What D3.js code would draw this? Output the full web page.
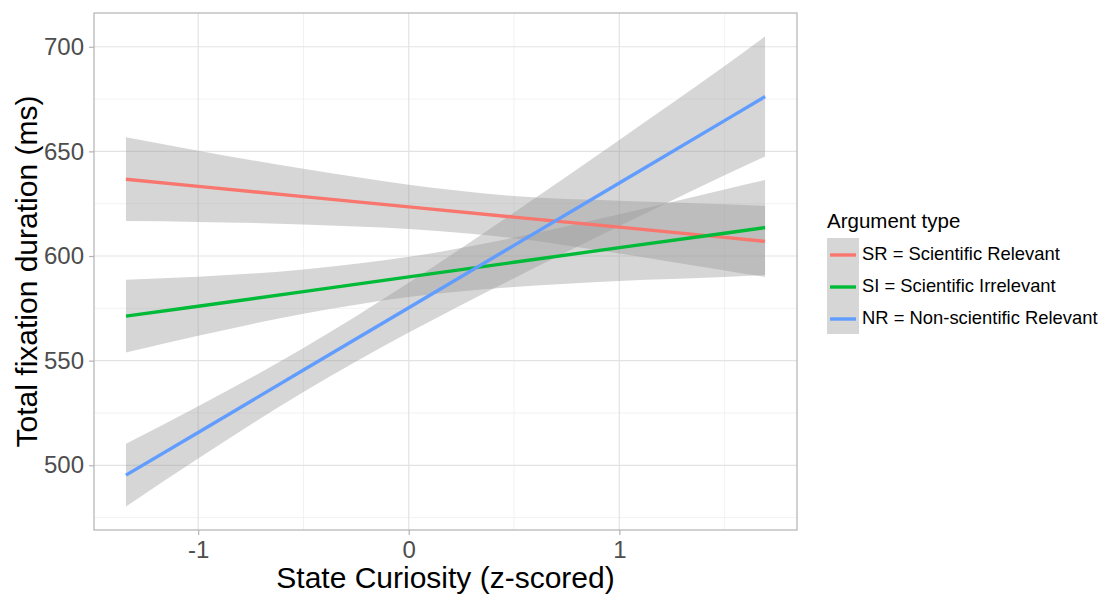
<!DOCTYPE html>
<html>
<head>
<meta charset="utf-8">
<script src="https://cdn.jsdelivr.net/npm/d3@7"></script>
<style>
  html, body { margin: 0; padding: 0; background: #ffffff; }
  svg { display: block; font-family: "Liberation Sans", Arial, sans-serif; }
</style>
</head>
<body>
<svg id="chart" width="1104" height="595"></svg>
<script>
// Fitted lines with 95% confidence bands, one per argument type
const seriesKeys = ["SR", "SI", "NR"];
const seriesLabels = ["SR = Scientific Relevant", "SI = Scientific Irrelevant", "NR = Non-scientific Relevant"];
const seriesColors = ["#F8766D", "#00BA38", "#619CFF"];

// State curiosity (z-scored) positions where the fit is evaluated
const curiosity = [-1.343, -1, -0.5, 0, 0.5, 1, 1.5, 1.692];

// Predicted total fixation duration (ms)
const fitSR = [636.7, 633.3, 628.4, 623.5, 618.6, 613.8, 608.9, 607.0];
const fitSI = [571.3, 576.0, 583.0, 590.0, 597.0, 604.0, 610.9, 613.6];
const fitNR = [495.3, 515.7, 545.5, 575.3, 605.1, 634.9, 664.7, 676.2];

// Lower and upper confidence limits (ms)
const lowerSR = [616.7, 616.3, 615.1, 612.9, 608.5, 601.2, 593.1, 590.0];
const upperSR = [656.7, 650.3, 641.7, 634.1, 628.7, 626.4, 624.7, 624.0];
const lowerSI = [553.9, 561.9, 572.4, 580.4, 585.2, 588.1, 590.0, 590.9];
const upperSI = [588.7, 590.1, 593.6, 599.6, 608.8, 619.9, 631.8, 636.3];
const lowerNR = [480.3, 503.2, 535.0, 563.4, 589.4, 614.3, 638.6, 647.5];
const upperNR = [510.3, 528.2, 556.0, 587.2, 620.8, 655.5, 690.8, 704.9];

const xTicks = [-1, 0, 1];
const yTicks = [500, 550, 600, 650, 700];

const fits = [fitSR, fitSI, fitNR];
const lowers = [lowerSR, lowerSI, lowerNR];
const uppers = [upperSR, upperSI, upperNR];

const series = seriesKeys.map((k, i) => ({
  key: k,
  label: seriesLabels[i],
  color: seriesColors[i],
  points: curiosity.map((x, j) => ({ x, y: fits[i][j], lo: lowers[i][j], hi: uppers[i][j] }))
}));

const svg = d3.select("#chart");
const panel = { left: 94, right: 797, top: 13, bottom: 530 };

// Domains padded by 5% like a ggplot continuous scale
const xExt = d3.extent(curiosity);
const yExt = [d3.min(lowers.flat()), d3.max(uppers.flat())];
const xPad = (xExt[1] - xExt[0]) * 0.05;
const yPad = (yExt[1] - yExt[0]) * 0.05;

const x = d3.scaleLinear().domain([xExt[0] - xPad, xExt[1] + xPad]).range([panel.left, panel.right]);
const y = d3.scaleLinear().domain([yExt[0] - yPad, yExt[1] + yPad]).range([panel.bottom, panel.top]);

// Minor grid lines halfway between the breaks
const xMinor = [-1.5, -0.5, 0.5, 1.5].filter(v => v >= x.domain()[0] && v <= x.domain()[1]);
const yMinor = [475, 525, 575, 625, 675].filter(v => v >= y.domain()[0] && v <= y.domain()[1]);

const grid = svg.append("g");
grid.selectAll("line.ymin").data(yMinor).join("line")
  .attr("x1", panel.left).attr("x2", panel.right)
  .attr("y1", d => y(d)).attr("y2", d => y(d))
  .attr("stroke", "#EFEFEF").attr("stroke-width", 0.8);
grid.selectAll("line.xmin").data(xMinor).join("line")
  .attr("y1", panel.top).attr("y2", panel.bottom)
  .attr("x1", d => x(d)).attr("x2", d => x(d))
  .attr("stroke", "#EFEFEF").attr("stroke-width", 0.8);
grid.selectAll("line.ymaj").data(yTicks).join("line")
  .attr("x1", panel.left).attr("x2", panel.right)
  .attr("y1", d => y(d)).attr("y2", d => y(d))
  .attr("stroke", "#E3E3E3").attr("stroke-width", 1.2);
grid.selectAll("line.xmaj").data(xTicks).join("line")
  .attr("y1", panel.top).attr("y2", panel.bottom)
  .attr("x1", d => x(d)).attr("x2", d => x(d))
  .attr("stroke", "#E3E3E3").attr("stroke-width", 1.2);

// Confidence bands (edges smoothed through the evaluated points)
const band = d3.area().curve(d3.curveMonotoneX)
  .x(d => x(d.x)).y0(d => y(d.lo)).y1(d => y(d.hi));
svg.append("g").selectAll("path").data(series).join("path")
  .attr("d", d => band(d.points))
  .attr("fill", "#999999").attr("fill-opacity", 0.4);

// Fitted lines
const line = d3.line().x(d => x(d.x)).y(d => y(d.y));
svg.append("g").selectAll("path").data(series).join("path")
  .attr("d", d => line(d.points))
  .attr("fill", "none").attr("stroke", d => d.color).attr("stroke-width", 3.4);

// Panel border
svg.append("rect")
  .attr("x", panel.left).attr("y", panel.top)
  .attr("width", panel.right - panel.left).attr("height", panel.bottom - panel.top)
  .attr("fill", "none").attr("stroke", "#B3B3B3").attr("stroke-width", 1.2);

// Axes (plain hyphen for negative numbers)
const fmt = d => d3.format("d")(d).replace("\u2212", "-");
const xAxis = d3.axisBottom(x).tickValues(xTicks).tickFormat(fmt).tickSize(5).tickPadding(6);
const yAxis = d3.axisLeft(y).tickValues(yTicks).tickFormat(fmt).tickSize(5).tickPadding(5);

const gx = svg.append("g").attr("transform", `translate(0,${panel.bottom})`).call(xAxis);
const gy = svg.append("g").attr("transform", `translate(${panel.left},0)`).call(yAxis);
[gx, gy].forEach(g => {
  g.select(".domain").remove();
  g.selectAll(".tick line").attr("stroke", "#B3B3B3").attr("stroke-width", 1.2);
  g.selectAll(".tick text").attr("fill", "#4D4D4D").attr("font-size", 24)
    .attr("font-family", "'Liberation Sans', Arial, sans-serif");
});

// Axis titles
svg.append("text")
  .attr("x", (panel.left + panel.right) / 2).attr("y", 588)
  .attr("text-anchor", "middle").attr("font-size", 30).attr("fill", "#000")
  .text("State Curiosity (z-scored)");
svg.append("text")
  .attr("transform", `translate(37,${(panel.top + panel.bottom) / 2}) rotate(-90)`)
  .attr("text-anchor", "middle").attr("font-size", 30).attr("fill", "#000")
  .text("Total fixation duration (ms)");

// Legend
const legend = svg.append("g").attr("transform", "translate(827,0)");
legend.append("text").attr("x", 0).attr("y", 228)
  .attr("font-size", 20.5).attr("fill", "#000").text("Argument type");
const keyH = 32;
const items = legend.selectAll("g.item").data(series).join("g")
  .attr("transform", (d, i) => `translate(0,${238 + i * keyH})`);
items.append("rect").attr("width", 32).attr("height", keyH)
  .attr("fill", "#999999").attr("fill-opacity", 0.4);
items.append("line").attr("x1", 3).attr("x2", 29)
  .attr("y1", keyH / 2 + 1).attr("y2", keyH / 2 + 1)
  .attr("stroke", d => d.color).attr("stroke-width", 3.4);
items.append("text").attr("x", 35).attr("y", keyH / 2).attr("dy", "0.3em")
  .attr("font-size", 18.4).attr("fill", "#000").text(d => d.label);
</script>
</body>
</html>
